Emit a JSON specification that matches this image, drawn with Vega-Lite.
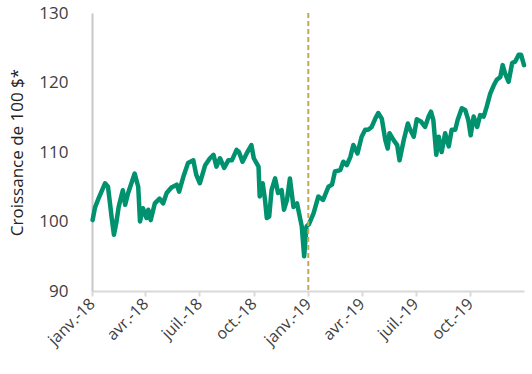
{
  "$schema": "https://vega.github.io/schema/vega-lite/v6.json",
  "width": 432,
  "height": 278,
  "autosize": "none",
  "padding": {"left": 92, "top": 13, "right": 8, "bottom": 83},
  "config": {"view": {"stroke": null}, "font": "Open Sans"},
  "layer": [
    {
      "data": {"values": [
        {"date": "2018-01-02", "value": 100.2},
        {"date": "2018-01-06", "value": 102.0},
        {"date": "2018-01-11", "value": 103.1},
        {"date": "2018-01-23", "value": 105.5},
        {"date": "2018-01-28", "value": 105.0},
        {"date": "2018-02-03", "value": 100.7},
        {"date": "2018-02-07", "value": 98.1},
        {"date": "2018-02-11", "value": 99.8},
        {"date": "2018-02-15", "value": 102.1},
        {"date": "2018-02-22", "value": 104.5},
        {"date": "2018-02-26", "value": 102.4},
        {"date": "2018-03-03", "value": 104.1},
        {"date": "2018-03-14", "value": 106.9},
        {"date": "2018-03-20", "value": 105.0},
        {"date": "2018-03-23", "value": 100.0},
        {"date": "2018-03-28", "value": 101.9},
        {"date": "2018-04-03", "value": 100.5},
        {"date": "2018-04-06", "value": 101.7},
        {"date": "2018-04-10", "value": 100.2},
        {"date": "2018-04-17", "value": 102.6},
        {"date": "2018-04-25", "value": 103.3},
        {"date": "2018-05-01", "value": 102.6},
        {"date": "2018-05-07", "value": 104.1},
        {"date": "2018-05-15", "value": 104.9},
        {"date": "2018-05-24", "value": 105.3},
        {"date": "2018-05-28", "value": 104.3},
        {"date": "2018-06-04", "value": 106.4},
        {"date": "2018-06-12", "value": 108.4},
        {"date": "2018-06-21", "value": 108.8},
        {"date": "2018-06-26", "value": 106.7},
        {"date": "2018-07-02", "value": 105.5},
        {"date": "2018-07-11", "value": 108.1},
        {"date": "2018-07-19", "value": 109.1},
        {"date": "2018-07-25", "value": 109.6},
        {"date": "2018-07-30", "value": 107.9},
        {"date": "2018-08-05", "value": 109.1},
        {"date": "2018-08-12", "value": 107.7},
        {"date": "2018-08-19", "value": 108.8},
        {"date": "2018-08-25", "value": 108.8},
        {"date": "2018-09-02", "value": 110.3},
        {"date": "2018-09-06", "value": 110.0},
        {"date": "2018-09-12", "value": 108.6},
        {"date": "2018-09-19", "value": 109.8},
        {"date": "2018-09-27", "value": 111.0},
        {"date": "2018-10-01", "value": 109.1},
        {"date": "2018-10-09", "value": 107.9},
        {"date": "2018-10-11", "value": 103.6},
        {"date": "2018-10-16", "value": 105.5},
        {"date": "2018-10-20", "value": 103.1},
        {"date": "2018-10-23", "value": 100.5},
        {"date": "2018-10-27", "value": 100.7},
        {"date": "2018-10-31", "value": 104.5},
        {"date": "2018-11-06", "value": 106.2},
        {"date": "2018-11-11", "value": 104.1},
        {"date": "2018-11-17", "value": 104.5},
        {"date": "2018-11-21", "value": 101.7},
        {"date": "2018-11-26", "value": 103.1},
        {"date": "2018-12-01", "value": 106.2},
        {"date": "2018-12-07", "value": 102.1},
        {"date": "2018-12-13", "value": 102.6},
        {"date": "2018-12-21", "value": 99.3},
        {"date": "2018-12-25", "value": 95.0},
        {"date": "2018-12-29", "value": 99.3},
        {"date": "2019-01-02", "value": 99.6},
        {"date": "2019-01-10", "value": 101.2},
        {"date": "2019-01-18", "value": 103.6},
        {"date": "2019-01-26", "value": 103.1},
        {"date": "2019-02-04", "value": 105.0},
        {"date": "2019-02-10", "value": 105.3},
        {"date": "2019-02-15", "value": 107.2},
        {"date": "2019-02-24", "value": 107.4},
        {"date": "2019-03-01", "value": 108.6},
        {"date": "2019-03-07", "value": 108.1},
        {"date": "2019-03-13", "value": 109.3},
        {"date": "2019-03-18", "value": 111.0},
        {"date": "2019-03-25", "value": 109.8},
        {"date": "2019-04-01", "value": 112.2},
        {"date": "2019-04-07", "value": 113.2},
        {"date": "2019-04-12", "value": 113.2},
        {"date": "2019-04-18", "value": 113.6},
        {"date": "2019-04-24", "value": 114.8},
        {"date": "2019-04-29", "value": 115.6},
        {"date": "2019-05-05", "value": 114.8},
        {"date": "2019-05-11", "value": 111.7},
        {"date": "2019-05-15", "value": 110.5},
        {"date": "2019-05-18", "value": 112.7},
        {"date": "2019-05-25", "value": 111.7},
        {"date": "2019-05-31", "value": 111.0},
        {"date": "2019-06-04", "value": 108.8},
        {"date": "2019-06-11", "value": 111.7},
        {"date": "2019-06-18", "value": 114.1},
        {"date": "2019-06-22", "value": 113.2},
        {"date": "2019-06-28", "value": 112.2},
        {"date": "2019-07-03", "value": 114.7},
        {"date": "2019-07-10", "value": 114.4},
        {"date": "2019-07-17", "value": 113.6},
        {"date": "2019-07-23", "value": 115.1},
        {"date": "2019-07-27", "value": 115.8},
        {"date": "2019-07-31", "value": 114.6},
        {"date": "2019-08-05", "value": 109.6},
        {"date": "2019-08-09", "value": 112.2},
        {"date": "2019-08-14", "value": 110.0},
        {"date": "2019-08-20", "value": 112.7},
        {"date": "2019-08-26", "value": 110.8},
        {"date": "2019-08-31", "value": 113.2},
        {"date": "2019-09-06", "value": 113.2},
        {"date": "2019-09-10", "value": 114.6},
        {"date": "2019-09-17", "value": 116.3},
        {"date": "2019-09-23", "value": 116.0},
        {"date": "2019-09-28", "value": 114.6},
        {"date": "2019-10-02", "value": 112.4},
        {"date": "2019-10-07", "value": 115.1},
        {"date": "2019-10-13", "value": 113.6},
        {"date": "2019-10-18", "value": 115.3},
        {"date": "2019-10-24", "value": 115.1},
        {"date": "2019-10-29", "value": 116.5},
        {"date": "2019-11-04", "value": 118.4},
        {"date": "2019-11-10", "value": 119.6},
        {"date": "2019-11-15", "value": 120.4},
        {"date": "2019-11-21", "value": 120.8},
        {"date": "2019-11-25", "value": 122.5},
        {"date": "2019-11-29", "value": 121.3},
        {"date": "2019-12-05", "value": 120.1},
        {"date": "2019-12-11", "value": 122.8},
        {"date": "2019-12-16", "value": 123.0},
        {"date": "2019-12-22", "value": 124.0},
        {"date": "2019-12-26", "value": 124.0},
        {"date": "2019-12-31", "value": 122.5}
      ]},
      "mark": {"type": "line", "color": "#00916e", "strokeWidth": 4.5, "strokeJoin": "round", "strokeCap": "round"},
      "encoding": {
        "x": {
          "field": "date",
          "type": "temporal",
          "scale": {"type": "utc", "domain": [{"year": 2018, "month": 1, "date": 1, "utc": true}, {"year": 2019, "month": 12, "date": 31, "utc": true}]},
          "axis": {
            "title": null,
            "grid": false,
            "values": [
              {"year": 2018, "month": 1, "date": 1, "utc": true},
              {"year": 2018, "month": 4, "date": 1, "utc": true},
              {"year": 2018, "month": 7, "date": 1, "utc": true},
              {"year": 2018, "month": 10, "date": 1, "utc": true},
              {"year": 2019, "month": 1, "date": 1, "utc": true},
              {"year": 2019, "month": 4, "date": 1, "utc": true},
              {"year": 2019, "month": 7, "date": 1, "utc": true},
              {"year": 2019, "month": 10, "date": 1, "utc": true}
            ],
            "labelExpr": "['janv.','févr.','mars','avr.','mai','juin','juil.','août','sept.','oct.','nov.','déc.'][utcmonth(datum.value)] + '-' + utcFormat(datum.value, '%y')",
            "labelAngle": -45,
            "labelAlign": "right",
            "labelBaseline": "middle",
            "labelFontSize": 16,
            "labelColor": "#404040",
            "labelPadding": 5,
            "labelFlush": false,
            "labelOverlap": false,
            "domainColor": "#d9d9d9",
            "domainWidth": 2,
            "tickColor": "#d9d9d9",
            "tickWidth": 2,
            "tickSize": 5
          }
        },
        "y": {
          "field": "value",
          "type": "quantitative",
          "scale": {"domain": [90, 130], "nice": false, "zero": false},
          "axis": {
            "values": [90, 100, 110, 120, 130],
            "grid": false,
            "ticks": false,
            "domainColor": "#c8c8c8",
            "domainWidth": 2,
            "labelFontSize": 17,
            "labelColor": "#404040",
            "labelPadding": 24,
            "title": "Croissance de 100 $*",
            "titleFontSize": 17,
            "titleFontWeight": "normal",
            "titleColor": "#222222",
            "titlePadding": 12
          }
        }
      }
    },
    {
      "data": {"values": [{"date": "2019-01-01"}]},
      "mark": {"type": "rule", "color": "#c4a85a", "strokeWidth": 2, "strokeDash": [5, 3]},
      "encoding": {
        "x": {"field": "date", "type": "temporal"}
      }
    }
  ]
}
